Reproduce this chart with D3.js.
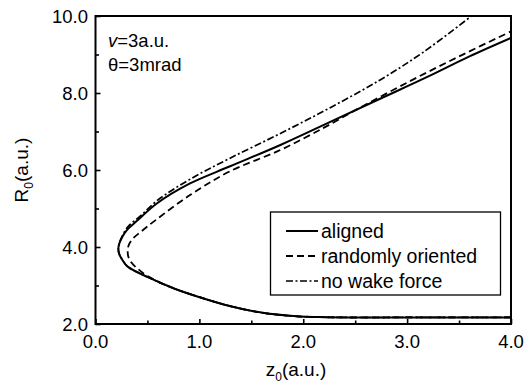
<!DOCTYPE html>
<html>
<head>
<meta charset="utf-8">
<script src="https://cdn.jsdelivr.net/npm/d3@7"></script>
<style>
  body { margin: 0; background: #fff; }
  svg text { font-family: "Liberation Sans", Arial, sans-serif; fill: #000; }
</style>
</head>
<body>
<svg id="chart" width="524" height="388"></svg>
<script>
// ticks
const xTicks = [0, 1, 2, 3, 4];
const yTicks = [2, 4, 6, 8, 10];
const xTickLabels = ["0.0", "1.0", "2.0", "3.0", "4.0"];
const yTickLabels = ["2.0", "4.0", "6.0", "8.0", "10.0"];

// aligned (solid), traced from the lower right, round the vertex, to the top
const alignedZ = [4.0, 3.0, 2.4, 2.15, 1.94, 1.61, 1.29, 1.01, 0.75, 0.51, 0.31, 0.255, 0.228, 0.22, 0.228, 0.25, 0.28, 0.32, 0.40, 0.59, 0.91, 1.29, 1.78, 2.26, 2.74, 3.22, 3.60, 4.0];
const alignedR = [2.17, 2.17, 2.17, 2.18, 2.20, 2.29, 2.47, 2.69, 2.93, 3.21, 3.49, 3.68, 3.82, 3.95, 4.08, 4.22, 4.36, 4.49, 4.68, 5.13, 5.65, 6.09, 6.65, 7.25, 7.85, 8.45, 8.95, 9.43];

// randomly oriented (dashed)
const randomZ = [4.0, 3.0, 2.4, 2.15, 1.94, 1.61, 1.29, 1.01, 0.75, 0.51, 0.40, 0.34, 0.315, 0.31, 0.32, 0.36, 0.43, 0.56, 0.91, 1.29, 1.78, 2.2, 2.5, 3.0, 3.5, 4.0];
const randomR = [2.17, 2.17, 2.17, 2.18, 2.20, 2.29, 2.47, 2.69, 2.93, 3.23, 3.45, 3.62, 3.76, 3.90, 4.05, 4.22, 4.38, 4.66, 5.35, 5.96, 6.52, 7.10, 7.55, 8.27, 8.95, 9.60];

// no wake force (dash-dot)
const noWakeZ = [4.0, 3.0, 2.4, 2.15, 1.94, 1.61, 1.29, 1.01, 0.75, 0.51, 0.31, 0.255, 0.228, 0.22, 0.228, 0.25, 0.28, 0.32, 0.43, 0.60, 0.91, 1.29, 1.78, 2.26, 2.74, 3.15, 3.62];
const noWakeR = [2.17, 2.17, 2.17, 2.18, 2.20, 2.29, 2.47, 2.69, 2.93, 3.21, 3.49, 3.68, 3.82, 3.95, 4.09, 4.24, 4.40, 4.55, 4.80, 5.22, 5.76, 6.30, 6.95, 7.62, 8.34, 9.05, 10.0];

const seriesNames = ["aligned", "randomly oriented", "no wake force"];
const dashes = [null, "7,4", "7,2.5,2,2.5"];

const svg = d3.select('#chart');
const mLeft = 95.5, mRight = 511, mTop = 16, mBottom = 324;

const x = d3.scaleLinear().domain([0, 4]).range([mLeft, mRight]);
const y = d3.scaleLinear().domain([2, 10]).range([mBottom, mTop]);

svg.append('clipPath')
    .attr('id', 'clip')
    .append('rect')
    .attr('x', mLeft).attr('y', mTop)
    .attr('width', mRight - mLeft).attr('height', mBottom - mTop);

//curves
const line = d3.line()
    .x(d => x(d[0]))
    .y(d => y(d[1]))
    .curve(d3.curveCatmullRom.alpha(0.5));

const series = [
    d3.zip(alignedZ, alignedR),
    d3.zip(randomZ, randomR),
    d3.zip(noWakeZ, noWakeR)
];
const widths = [2, 1.8, 1.7];

series.forEach((pts, i) => {
    svg.append('path')
        .attr('clip-path', 'url(#clip)')
        .attr('d', line(pts))
        .attr('fill', 'none')
        .attr('stroke', '#000')
        .attr('stroke-width', widths[i])
        .attr('stroke-dasharray', dashes[i]);
});

// minor ticks + axes
const xAxis = d3.axisBottom(x).tickValues(d3.range(0, 4.01, 0.5)).tickSize(-5)
    .tickFormat('');
const yAxis = d3.axisLeft(y).tickValues(d3.range(2, 10.01, 1)).tickSize(-5)
    .tickFormat('');

const gx = svg.append('g').attr('transform', `translate(0,${mBottom})`).call(xAxis);
const gy = svg.append('g').attr('transform', `translate(${mLeft},0)`).call(yAxis);
[gx, gy].forEach(g => {
    g.select('.domain').remove();
    g.selectAll('line').attr('stroke', '#000').attr('stroke-width', 1.6);
});
// shorter minor ticks
gx.selectAll('.tick line').attr('y2', (d) => xTicks.includes(d) ? -5 : -3.5);
gy.selectAll('.tick line').attr('x2', (d) => yTicks.includes(d) ? 5 : 3.5);

// frame
svg.append('rect')
    .attr('x', mLeft).attr('y', mTop)
    .attr('width', mRight - mLeft).attr('height', mBottom - mTop)
    .attr('fill', 'none')
    .attr('stroke', '#000')
    .attr('stroke-width', 2);

// tick labels
svg.selectAll('.xl')
    .data(xTicks)
    .enter().append('text')
    .attr('x', d => x(d))
    .attr('y', 348)
    .attr('text-anchor', 'middle')
    .attr('font-size', 18.5)
    .text((d, i) => xTickLabels[i]);
svg.selectAll('.yl')
    .data(yTicks)
    .enter().append('text')
    .attr('x', 88)
    .attr('y', d => y(d) + 6.5)
    .attr('text-anchor', 'end')
    .attr('font-size', 18.5)
    .text((d, i) => yTickLabels[i]);

// axis titles
const xt = svg.append('text')
    .attr('x', 296)
    .attr('y', 376)
    .attr('text-anchor', 'middle')
    .attr('font-size', 19);
xt.append('tspan').text('z');
xt.append('tspan').attr('font-size', 12).attr('dy', 5).text('0');
xt.append('tspan').attr('dy', -5).text('(a.u.)');

const yt = svg.append('text')
    .attr('transform', 'translate(28,170) rotate(-90)')
    .attr('text-anchor', 'middle')
    .attr('font-size', 19);
yt.append('tspan').text('R');
yt.append('tspan').attr('font-size', 12).attr('dy', 5).text('0');
yt.append('tspan').attr('dy', -5).text('(a.u.)');

// annotation
const a1 = svg.append('text').attr('x', 108).attr('y', 47).attr('font-size', 18.5);
a1.append('tspan').attr('font-style', 'italic').text('v');
a1.append('tspan').text('=3a.u.');
svg.append('text').attr('x', 108).attr('y', 71).attr('font-size', 18.5).text('\u03b8=3mrad');

// legend
svg.append('rect')
    .attr('x', 270.5).attr('y', 212)
    .attr('width', 230).attr('height', 83)
    .attr('fill', '#fff')
    .attr('stroke', '#000')
    .attr('stroke-width', 1.3);

seriesNames.forEach((name, i) => {
    const ly = 231 + i * 25;
    svg.append('line')
        .attr('x1', 286).attr('x2', 318)
        .attr('y1', ly).attr('y2', ly)
        .attr('stroke', '#000')
        .attr('stroke-width', widths[i])
        .attr('stroke-dasharray', dashes[i]);
    svg.append('text')
        .attr('x', 321)
        .attr('y', ly + 6.5)
        .attr('font-size', 19.5)
        .text(name);
});
</script>
</body>
</html>
